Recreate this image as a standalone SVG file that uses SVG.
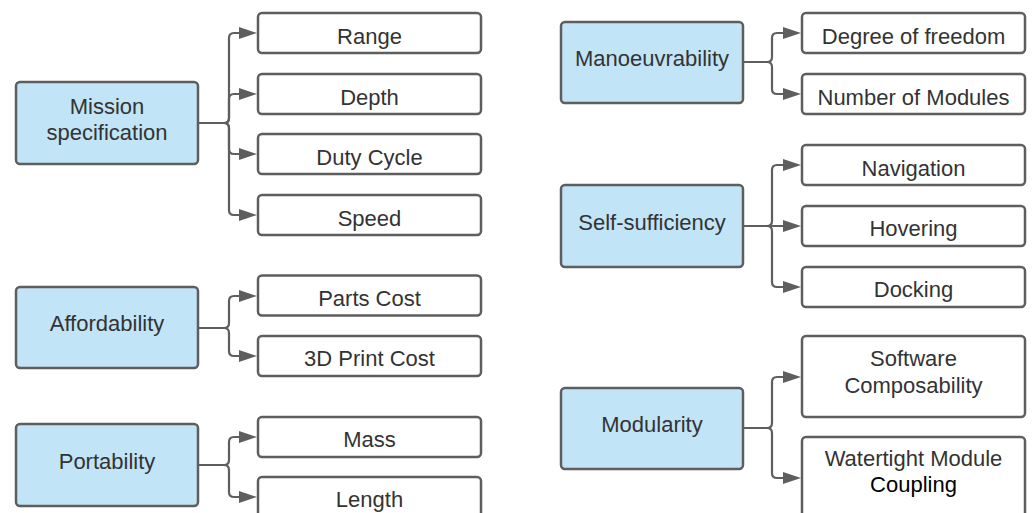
<svg xmlns="http://www.w3.org/2000/svg" width="1034" height="513" viewBox="0 0 1034 513">
<style>
.p{fill:#c1e4f6;stroke:#5e5e5e;stroke-width:2.5}
.c{fill:#ffffff;stroke:#5e5e5e;stroke-width:2.5}
text{font-family:"Liberation Sans",Arial,sans-serif;font-size:22px;fill:#333333;text-anchor:middle}
.k{fill:#000000}
.ln{fill:none;stroke:#5e5e5e;stroke-width:2.2;marker-end:url(#ah)}
</style>
<defs>
<marker id="ah" markerUnits="userSpaceOnUse" markerWidth="18" markerHeight="12" refX="0" refY="6" orient="auto">
<path d="M0,0 L18,6 L0,12 Z" fill="#5e5e5e"/>
</marker>
</defs>
<rect width="1034" height="513" fill="#ffffff"/>
<g id="connectors">
<path class="ln" d="M198,123 H224 Q229,123 229,118 V38 Q229,33 234,33 H239"/>
<path class="ln" d="M198,123 H224 Q229,123 229,118 V99 Q229,94 234,94 H239"/>
<path class="ln" d="M198,123 H224 Q229,123 229,128 V149 Q229,154 234,154 H239"/>
<path class="ln" d="M198,123 H224 Q229,123 229,128 V210 Q229,215 234,215 H239"/>
<path class="ln" d="M198,328 H224 Q229,328 229,323 V301 Q229,296 234,296 H239"/>
<path class="ln" d="M198,328 H224 Q229,328 229,333 V351 Q229,356 234,356 H239"/>
<path class="ln" d="M198,465 H224 Q229,465 229,460 V442 Q229,437 234,437 H239"/>
<path class="ln" d="M198,465 H224 Q229,465 229,470 V492 Q229,497 234,497 H239"/>
<path class="ln" d="M743,62 H767 Q772,62 772,57 V38 Q772,33 777,33 H783"/>
<path class="ln" d="M743,62 H767 Q772,62 772,67 V89 Q772,94 777,94 H783"/>
<path class="ln" d="M743,226 H767 Q772,226 772,221 V170 Q772,165 777,165 H783"/>
<path class="ln" d="M743,226 H783"/>
<path class="ln" d="M743,226 H767 Q772,226 772,231 V282 Q772,287 777,287 H783"/>
<path class="ln" d="M743,428 H767 Q772,428 772,423 V382 Q772,377 777,377 H783"/>
<path class="ln" d="M743,428 H767 Q772,428 772,433 V473 Q772,478 777,478 H783"/>
</g>
<g id="mission"><rect class="p" x="16" y="82" width="182" height="82" rx="4"/><text x="107" y="113.5">Mission</text><text x="107" y="140">specification</text></g>
<g id="range"><rect class="c" x="258" y="13" width="223" height="40" rx="4"/><text x="369.5" y="43.5">Range</text></g>
<g id="depth"><rect class="c" x="258" y="74" width="223" height="40" rx="4"/><text x="369.5" y="104.5">Depth</text></g>
<g id="duty"><rect class="c" x="258" y="134" width="223" height="40" rx="4"/><text x="369.5" y="164.5">Duty Cycle</text></g>
<g id="speed"><rect class="c" x="258" y="195" width="223" height="40" rx="4"/><text x="369.5" y="225.5">Speed</text></g>
<g id="afford"><rect class="p" x="16" y="287" width="182" height="81" rx="4"/><text x="107" y="331">Affordability</text></g>
<g id="parts"><rect class="c" x="258" y="275.5" width="223" height="40" rx="4"/><text x="369.5" y="305.5">Parts Cost</text></g>
<g id="print"><rect class="c" x="258" y="336" width="223" height="40" rx="4"/><text x="369.5" y="366">3D Print Cost</text></g>
<g id="portability"><rect class="p" x="16" y="424" width="182" height="82" rx="4"/><text x="107" y="468.5">Portability</text></g>
<g id="mass"><rect class="c" x="258" y="417" width="223" height="40" rx="4"/><text x="369.5" y="447">Mass</text></g>
<g id="length"><rect class="c" x="258" y="477" width="223" height="40" rx="4"/><text x="369.5" y="507">Length</text></g>
<g id="manoeuv"><rect class="p" x="561" y="22" width="182" height="81" rx="4"/><text x="652" y="66">Manoeuvrability</text></g>
<g id="dof"><rect class="c" x="802" y="13" width="223" height="40" rx="4"/><text x="913.5" y="43.5">Degree of freedom</text></g>
<g id="nmod"><rect class="c" x="802" y="74" width="223" height="40" rx="4"/><text x="913.5" y="104.5">Number of Modules</text></g>
<g id="selfsuff"><rect class="p" x="561" y="185" width="182" height="82" rx="4"/><text x="652" y="229.5">Self-sufficiency</text></g>
<g id="nav"><rect class="c" x="802" y="145" width="223" height="40" rx="4"/><text x="913.5" y="175.5">Navigation</text></g>
<g id="hover"><rect class="c" x="802" y="206" width="223" height="40" rx="4"/><text x="913.5" y="236">Hovering</text></g>
<g id="dock"><rect class="c" x="802" y="267" width="223" height="40" rx="4"/><text x="913.5" y="297">Docking</text></g>
<g id="modularity"><rect class="p" x="561" y="388" width="182" height="81" rx="4"/><text x="652" y="432">Modularity</text></g>
<g id="software"><rect class="c" x="802" y="336" width="223" height="81" rx="4"/><text x="913.5" y="366">Software</text><text x="913.5" y="392.5">Composability</text></g>
<g id="watertight"><rect class="c" x="802" y="437" width="223" height="81" rx="4"/><text x="913.5" y="466">Watertight Module</text><text x="913.5" y="492" class="k">Coupling</text></g>
</svg>
